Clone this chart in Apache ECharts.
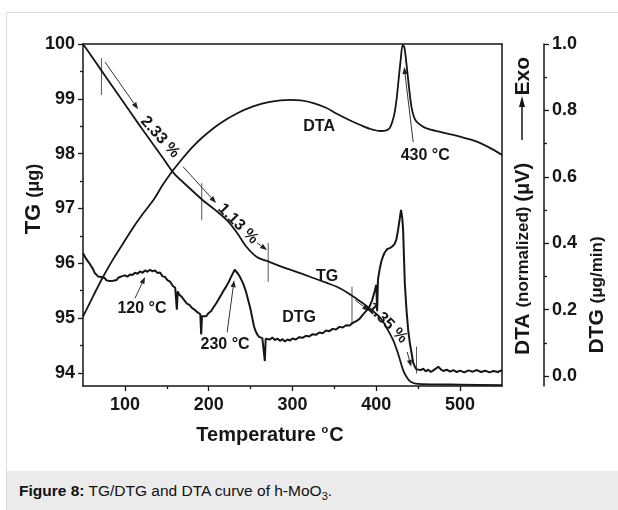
<!DOCTYPE html>
<html>
<head>
<meta charset="utf-8">
<script src="https://cdn.jsdelivr.net/npm/echarts@6/dist/echarts.min.js"></script>
<style>
html, body { margin: 0; padding: 0; background: #fff; }
#frame { position: absolute; left: 6px; top: 12px; width: 640px; height: 520px; border: 1px solid #dcdcdc; box-sizing: border-box; }
#caption { position: absolute; left: 7px; top: 471px; width: 620px; height: 39px; background: #ebebeb; color: #111;
  font: 15.5px "Liberation Sans", Arial, sans-serif; line-height: 40px; padding-left: 12px; box-sizing: border-box; }
#chart { position: absolute; left: 0; top: 0; width: 618px; height: 510px; }
</style>
</head>
<body>
<div id="frame"></div>
<div id="caption"><b>Figure 8:</b> TG/DTG and DTA curve of h-MoO<sub style="font-size:11px">3</sub>.</div>
<div id="chart"></div>
<script>
// temperature (°C), value pairs
var tgData = [[50,100],[60,99.78],[70,99.56],[85,99.23],[100,98.9],[115,98.57],[130,98.25],[145,97.93],[158,97.65],
  [175,97.4],[193,97.15],[208,96.97],[222,96.78],[234,96.55],[245,96.3],[257,96.12],[273,96.02],[290,95.92],[309,95.82],
  [325,95.73],[341,95.64],[353,95.57],[368,95.44],[384,95.27],[395,95.14],[405,95.0],[412,94.83],[420,94.6],[426,94.35],
  [432,94.05],[436,93.93],[440,93.85],[445,93.81],[450,93.8],[475,93.79],[500,93.785],[550,93.775]];

var dtaData = [[50,0.179],[62,0.24],[74,0.299],[86,0.352],[98,0.4],[108,0.44],[121,0.487],[134,0.53],[145,0.575],
  [157,0.618],[167,0.65],[180,0.688],[193,0.72],[213,0.76],[233,0.79],[253,0.812],[273,0.826],[297,0.832],[310,0.83],
  [325,0.822],[340,0.808],[353,0.79],[367,0.772],[381,0.756],[393,0.744],[405,0.738],[411,0.739],[416,0.747],[419,0.765],
  [422,0.795],[424.5,0.84],[426.5,0.89],[429,0.95],[431.5,0.997],[433.5,0.99],[436,0.94],[439,0.87],[442,0.81],[445,0.78],
  [448,0.766],[454,0.754],[460,0.746],[475,0.736],[492,0.726],[507,0.716],[520,0.706],[535,0.688],[550,0.666]];

var dtgData = [[50,0.37],[52,0.365],[54,0.352],[56,0.348],[58,0.338],[60,0.33],[62,0.322],[64,0.31],[66,0.304],[68,0.3],
  [70,0.296],[72,0.298],[74,0.292],[76,0.295],[78,0.288],[80,0.292],[82,0.286],[84,0.291],[86,0.287],[88,0.293],[90,0.289],
  [92,0.296],[94,0.292],[96,0.3],[98,0.297],[100,0.303],[103,0.299],[106,0.306],[109,0.304],[112,0.311],[115,0.308],
  [118,0.315],[121,0.311],[124,0.318],[127,0.314],[130,0.32],[133,0.315],[136,0.318],[139,0.31],[142,0.312],[145,0.3],
  [148,0.298],[151,0.288],[154,0.284],[157,0.272],[160,0.266],[161,0.262],[162,0.2],[163,0.255],[165,0.245],[168,0.238],
  [171,0.228],[174,0.218],[177,0.214],[180,0.205],[183,0.2],[186,0.193],[188,0.19],[190,0.186],[191,0.125],[192,0.18],
  [194,0.178],[197,0.18],[200,0.19],[203,0.196],[206,0.208],[209,0.219],[212,0.232],[215,0.245],[218,0.258],[221,0.27],
  [224,0.284],[227,0.3],[229,0.31],[231,0.32],[233,0.316],[235,0.308],[238,0.295],[241,0.279],[244,0.258],[247,0.23],
  [250,0.2],[252,0.175],[254,0.15],[256,0.135],[258,0.125],[260,0.118],[262,0.122],[264,0.114],[266,0.119],[267,0.045],
  [268,0.112],[270,0.118],[273,0.11],[276,0.116],[279,0.108],[282,0.113],[285,0.106],[288,0.111],[291,0.104],[294,0.11],
  [297,0.107],[300,0.113],[304,0.11],[308,0.117],[312,0.115],[316,0.121],[320,0.119],[324,0.126],[328,0.124],[332,0.131],
  [336,0.129],[340,0.137],[344,0.135],[348,0.142],[352,0.14],[356,0.148],[360,0.146],[364,0.153],[368,0.152],[372,0.16],
  [376,0.165],[380,0.172],[384,0.185],[388,0.196],[392,0.21],[395,0.228],[398,0.255],[400,0.275],[401,0.195],[402,0.29],
  [404,0.322],[406,0.345],[408,0.36],[410,0.372],[413,0.382],[416,0.385],[419,0.39],[422,0.398],[424,0.412],[426,0.44],
  [428,0.475],[429.5,0.5],[431,0.475],[432,0.44],[433,0.36],[434,0.28],[436,0.2],[438,0.14],[440,0.1],[442,0.07],
  [444,0.04],[446,0.028],[448,0.02],[450,0.025],[453,0.018],[456,0.022],[459,0.014],[462,0.019],[465,0.012],[468,0.017],
  [471,0.022],[474,0.028],[477,0.02],[480,0.015],[484,0.019],[488,0.013],[492,0.018],[496,0.012],[500,0.016],[505,0.011],
  [510,0.017],[515,0.013],[520,0.018],[525,0.012],[530,0.016],[535,0.011],[540,0.015],[545,0.012],[550,0.018]];

var xTicks = [100, 200, 300, 400, 500];
var xMinor = [150, 250, 350, 450];
var tgTicks = [94, 95, 96, 97, 98, 99, 100];
var tgMinor = [94.5, 95.5, 96.5, 97.5, 98.5, 99.5];
var rTicks = [0, 0.2, 0.4, 0.6, 0.8, 1.0];
var rMinor = [0.1, 0.3, 0.5, 0.7, 0.9];

// annotations, in (temperature, TG) coordinates
var stepBars = [[72, 99.74, 99.07], [191.7, 97.46, 96.79], [271, 96.37, 95.66], [371, 95.57, 94.9], [448, 94.48, 93.99]];
var arrows = [
  [[76.3, 99.67], [115.7, 98.81]],
  [[169.4, 97.76], [208.8, 97.1]],
  [[257.8, 96.37], [269.7, 96.24]],
  [[374.8, 95.33], [391.5, 95.13]],
  [[436.9, 94.38], [441.6, 94.11]],
  [[112, 95.36], [124, 95.75]],
  [[222, 94.74], [230.3, 95.69]],
  [[444, 98.21], [433.3, 99.58]]
];
var notes = [
  ['2.33 %', 141.9, 98.3, 48],
  ['1.13 %', 235, 96.72, 45],
  ['1.35 %', 413, 94.91, 45],
  ['120 °C', 120.4, 95.18, 0],
  ['230 °C', 219.6, 94.51, 0],
  ['430 °C', 458.4, 97.96, 0],
  ['DTA', 331.8, 98.5, 0],
  ['TG', 341.3, 95.75, 0],
  ['DTG', 307.9, 95.0, 0]
];

var font = '"Liberation Sans", Arial, sans-serif';
var ink = '#161616';

function label(extra) {
  var o = { fontSize: 18, fontWeight: 'bold', color: ink, fontFamily: font };
  for (var k in extra) o[k] = extra[k];
  return o;
}
var lineSt = { color: ink, width: 1.5 };
var tickSt = { color: ink, width: 1.3 };

var chart = echarts.init(document.getElementById('chart'));
chart.setOption({
  animation: false,
  grid: { left: 83, right: 116, top: 44, bottom: 124 },
  xAxis: [
    { type: 'value', min: 50, max: 550, position: 'bottom',
      axisLine: { show: true, onZero: false, lineStyle: lineSt },
      axisTick: { show: true, length: 5, customValues: xTicks, lineStyle: tickSt },
      axisLabel: label({ customValues: xTicks, margin: 10 }),
      splitLine: { show: false } },
    { type: 'value', min: 50, max: 550, position: 'bottom',
      axisLine: { show: false, onZero: false },
      axisTick: { show: true, length: 3, customValues: xMinor, lineStyle: tickSt },
      axisLabel: { show: false, customValues: xMinor }, splitLine: { show: false } },
    { type: 'value', min: 50, max: 550, position: 'top',
      axisLine: { show: true, onZero: false, lineStyle: lineSt },
      axisTick: { show: false }, axisLabel: { show: false }, splitLine: { show: false } }
  ],
  yAxis: [
    { type: 'value', min: 93.76, max: 100, position: 'left',
      axisLine: { show: true, onZero: false, lineStyle: lineSt },
      axisTick: { show: true, length: 5, customValues: tgTicks, lineStyle: tickSt },
      axisLabel: label({ customValues: tgTicks, margin: 8 }),
      splitLine: { show: false } },
    { type: 'value', min: 93.76, max: 100, position: 'left',
      axisLine: { show: false, onZero: false },
      axisTick: { show: true, length: 3, customValues: tgMinor, lineStyle: tickSt },
      axisLabel: { show: false, customValues: tgMinor }, splitLine: { show: false } },
    { type: 'value', min: -0.0301, max: 1, position: 'right', offset: 0,
      axisLine: { show: true, onZero: false, lineStyle: lineSt },
      axisTick: { show: false }, axisLabel: { show: false }, splitLine: { show: false } },
    { type: 'value', min: -0.0301, max: 1, position: 'right', offset: 42,
      axisLine: { show: true, onZero: false, lineStyle: lineSt },
      axisTick: { show: true, length: 5, customValues: rTicks, lineStyle: tickSt },
      axisLabel: label({ customValues: rTicks, margin: 8, formatter: function (v) { return v.toFixed(1); } }),
      splitLine: { show: false } },
    { type: 'value', min: -0.0301, max: 1, position: 'right', offset: 42,
      axisLine: { show: false, onZero: false },
      axisTick: { show: true, length: 3, customValues: rMinor, lineStyle: tickSt },
      axisLabel: { show: false, customValues: rMinor }, splitLine: { show: false } }
  ],
  series: [
    { name: 'TG', type: 'line', xAxisIndex: 0, yAxisIndex: 0, data: tgData, smooth: 0.3, symbol: 'none',
      lineStyle: { color: ink, width: 1.8 } },
    { name: 'DTA', type: 'line', xAxisIndex: 0, yAxisIndex: 3, data: dtaData, smooth: 0.3, symbol: 'none',
      lineStyle: { color: ink, width: 1.8 } },
    { name: 'DTG', type: 'line', xAxisIndex: 0, yAxisIndex: 3, data: dtgData, symbol: 'none',
      lineStyle: { color: ink, width: 2 } }
  ]
});

function px(p) { return chart.convertToPixel({ xAxisIndex: 0, yAxisIndex: 0 }, p); }

var els = [];
stepBars.forEach(function (b) {
  var a = px([b[0], b[1]]), c = px([b[0], b[2]]);
  els.push({ type: 'line', shape: { x1: a[0], y1: a[1], x2: c[0], y2: c[1] }, style: { stroke: '#555', lineWidth: 1 } });
});
arrows.forEach(function (ar) {
  var p = px(ar[0]), q = px(ar[1]);
  var ang = Math.atan2(q[1] - p[1], q[0] - p[0]);
  var L = 7, W = 2.6;
  var bx = q[0] - L * Math.cos(ang), by = q[1] - L * Math.sin(ang);
  els.push({ type: 'line', shape: { x1: p[0], y1: p[1], x2: bx, y2: by }, style: { stroke: '#333', lineWidth: 1 } });
  els.push({ type: 'polygon', shape: { points: [q, [bx + W * Math.sin(ang), by - W * Math.cos(ang)], [bx - W * Math.sin(ang), by + W * Math.cos(ang)]] },
    style: { fill: '#222' } });
});
notes.forEach(function (n) {
  var c = px([n[1], n[2]]);
  els.push({ type: 'text', x: c[0], y: c[1], rotation: -n[3] * Math.PI / 180,
    style: { text: n[0], fill: ink, font: 'bold 16px ' + font, textAlign: 'center', textVerticalAlign: 'middle' } });
});

// axis titles
els.push({ type: 'text', x: 34, y: 199, rotation: Math.PI / 2,
  style: { text: '{a|TG }{b|(μg)}', textAlign: 'center', textVerticalAlign: 'middle',
    rich: { a: { font: 'bold 22px ' + font, fill: ink }, b: { font: 'bold 18px ' + font, fill: ink } } } });
els.push({ type: 'text', x: 597, y: 295, rotation: Math.PI / 2,
  style: { text: '{a|DTG }{b|(μg/min)}', textAlign: 'center', textVerticalAlign: 'middle',
    rich: { a: { font: 'bold 21px ' + font, fill: ink }, b: { font: 'bold 17px ' + font, fill: ink } } } });
els.push({ type: 'text', x: 523, y: 355, rotation: Math.PI / 2,
  style: { text: '{a|DTA }{b|(normalized) }{c|(μV)}', textAlign: 'left', textVerticalAlign: 'middle',
    rich: { a: { font: 'bold 21px ' + font, fill: ink }, b: { font: 'bold 17px ' + font, fill: ink }, c: { font: 'bold 20px ' + font, fill: ink } } } });
els.push({ type: 'line', shape: { x1: 522, y1: 140, x2: 522, y2: 106 }, style: { stroke: ink, lineWidth: 1.5 } });
els.push({ type: 'polygon', shape: { points: [[522, 96], [519, 107], [525, 107]] }, style: { fill: ink } });
els.push({ type: 'text', x: 523, y: 57, rotation: Math.PI / 2,
  style: { text: 'Exo', font: 'bold 21px ' + font, fill: ink, textAlign: 'right', textVerticalAlign: 'middle' } });
els.push({ type: 'text', x: 270, y: 435,
  style: { text: '{a|Temperature }{s|o}{a|C}', textAlign: 'center', textVerticalAlign: 'middle',
    rich: { a: { font: 'bold 20px ' + font, fill: ink, lineHeight: 22 }, s: { font: 'bold 11px ' + font, fill: ink, verticalAlign: 'top', lineHeight: 22, padding: [0, 1, 10, 0] } } } });

chart.setOption({ graphic: { elements: els } });
</script>
</body>
</html>
